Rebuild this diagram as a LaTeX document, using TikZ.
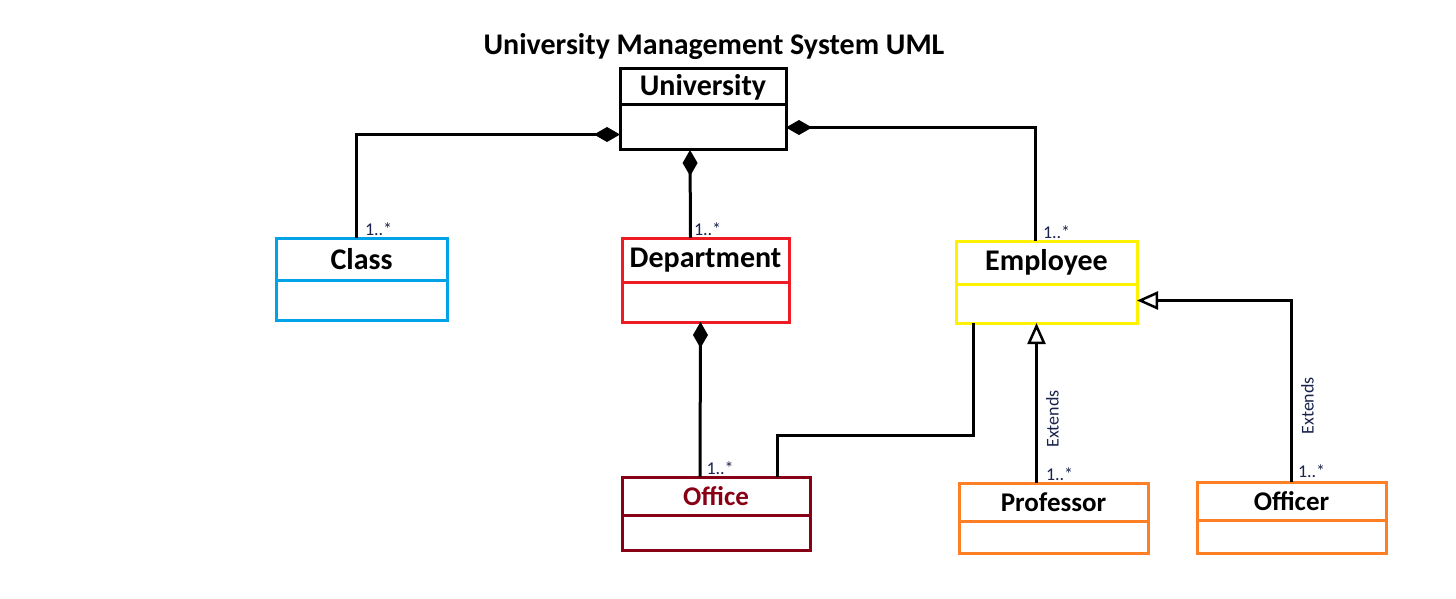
\documentclass[tikz,border=0pt]{standalone}
\usepackage{fontspec}
\setmainfont{Carlito}
\usetikzlibrary{arrows.meta,positioning}
\definecolor{clsblue}{RGB}{0,162,232}
\definecolor{deptred}{RGB}{237,28,36}
\definecolor{empyellow}{RGB}{255,242,0}
\definecolor{officered}{RGB}{136,0,21}
\definecolor{staffor}{RGB}{255,127,39}
\definecolor{multc}{RGB}{25,35,75}
\begin{document}
\begin{tikzpicture}[x=1pt,y=-1pt,line width=3pt,font=\bfseries\fontsize{30}{36}\selectfont]
\tikzstyle{hd}=[draw,outer sep=0pt,inner sep=0pt,minimum height=38pt]
\tikzstyle{bd}=[draw,outer sep=0pt,inner sep=0pt]
\tikzstyle{comp}=[{Diamond[length=26pt,width=15pt]}-]
\tikzstyle{gen}=[{Triangle[open,length=21pt,width=18pt,line width=2.5pt,fill=white]}-]
\tikzstyle{mult}=[font=\fontsize{18}{21}\selectfont,text=multc,inner sep=1pt]
\tikzstyle{ext}=[mult,rotate=90,anchor=north,inner sep=8pt]
\useasboundingbox (0,0) rectangle (1456,599);
\node (title) at (714,47) {University Management System UML};
\node[hd,minimum width=166pt,minimum height=36pt] (uni) at (703,87) {University};
\node[bd,minimum width=166pt,minimum height=45pt,below=0pt of uni] (uniB) {};
\node[hd,draw=clsblue,minimum width=171pt,minimum height=42pt] (cls) at (361.5,259) {Class};
\node[bd,draw=clsblue,minimum width=171pt,minimum height=40pt,below=0pt of cls] (clsB) {};
\node[hd,draw=deptred,minimum width=167pt,minimum height=44pt] (dep) at (705.5,260) {Department};
\node[bd,draw=deptred,minimum width=167pt,minimum height=40pt,below=0pt of dep] (depB) {};
\node[hd,draw=empyellow,minimum width=181pt,minimum height=43pt] (emp) at (1046.5,262.5) {Employee};
\node[bd,draw=empyellow,minimum width=181pt,minimum height=39pt,below=0pt of emp] (empB) {};
\node[hd,draw=officered,text=officered,minimum width=188pt,font=\bfseries\fontsize{27}{32}\selectfont] (ofc) at (716,496) {Office};
\node[bd,draw=officered,minimum width=188pt,minimum height=35pt,below=0pt of ofc] (ofcB) {};
\node[hd,draw=staffor,minimum width=189pt,font=\bfseries\fontsize{27}{32}\selectfont] (prof) at (1053.5,502) {Professor};
\node[bd,draw=staffor,minimum width=189pt,minimum height=32pt,below=0pt of prof] (profB) {};
\node[hd,draw=staffor,minimum width=189pt,font=\bfseries\fontsize{27}{32}\selectfont] (ofr) at (1291.5,501) {Officer};
\node[bd,draw=staffor,minimum width=189pt,minimum height=33pt,below=0pt of ofr] (ofrB) {};
\coordinate (kink) at (973,435);
\draw[comp] ([yshift=-7pt]uniB.west) -| node[mult,at end,anchor=south west,xshift=6pt]{1..*} ([xshift=-5pt]cls.north);
\draw[comp] ([xshift=-13pt]uniB.south) -- node[mult,at end,anchor=south west,xshift=1pt]{1..*} ([xshift=-15pt]dep.north);
\draw[comp] (uniB.east) -| node[mult,at end,anchor=south west,xshift=5pt]{1..*} ([xshift=-11pt]emp.north);
\draw[comp] ([xshift=-5pt]depB.south) -- node[mult,at end,anchor=south west,xshift=4pt]{1..*} ([xshift=-16pt]ofc.north);
\draw ([xshift=61pt]ofc.north) |- (kink) -- (kink |- empB.south);
\draw[gen] ([xshift=-10pt]empB.south) -- node[ext,pos=0.6]{Extends} node[mult,at end,anchor=south west,xshift=7pt]{1..*} ([xshift=-17pt]prof.north);
\draw[gen] ([yshift=3pt]empB.east) -| node[ext,pos=0.79]{Extends} node[mult,at end,anchor=south west,xshift=4pt,yshift=2pt]{1..*} (ofr.north);
\end{tikzpicture}
\end{document}
